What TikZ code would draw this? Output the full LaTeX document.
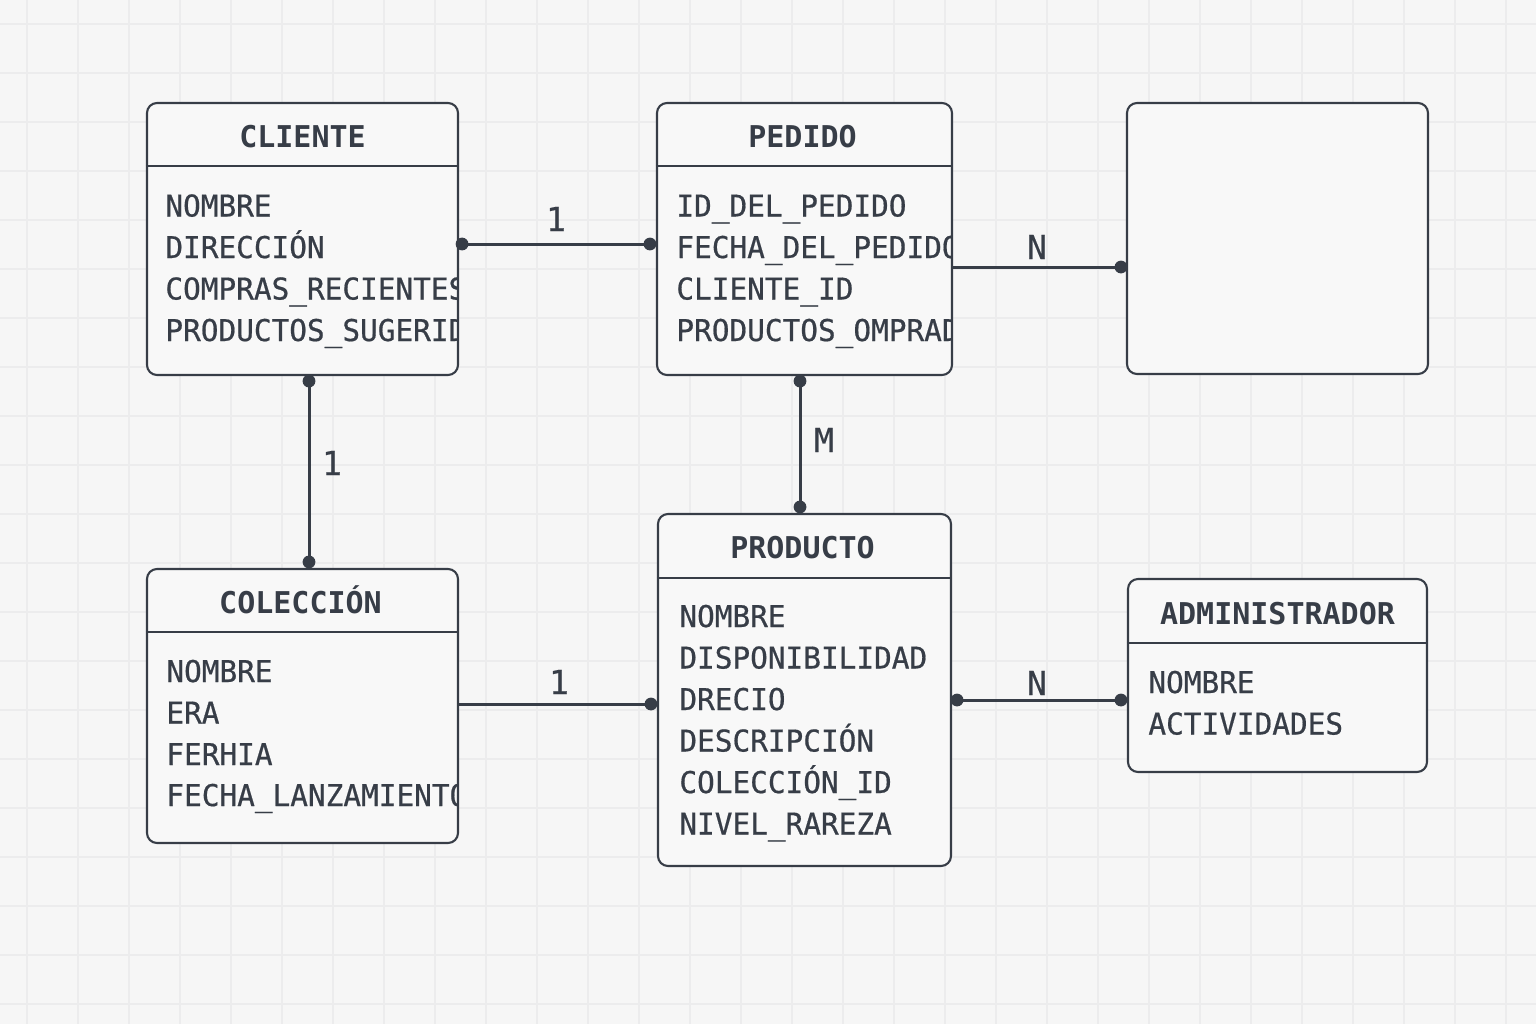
\documentclass[tikz,border=0pt]{standalone}
\usepackage{fontspec}
\usetikzlibrary{calc}
\newfontfamily\attrfont[FakeStretch=0.98,FakeBold=0.6]{DejaVu Sans Mono}
\newfontfamily\cardfont[FakeBold=0.4]{DejaVu Sans Mono}
\newfontfamily\titlefont{DejaVu Sans Mono}
\definecolor{ink}{RGB}{55,61,71}
\definecolor{bgc}{RGB}{246,246,246}
\definecolor{gridc}{RGB}{236,236,237}
\definecolor{boxfill}{RGB}{248,248,248}
\tikzset{
  entity/.style={draw=ink, fill=boxfill, line width=1.05pt, rounded corners=5pt, inner sep=0pt},
  hdr/.style={draw=ink, line width=0.9pt},
  ttl/.style={text=ink, inner sep=0pt, anchor=base, font=\titlefont\bfseries\fontsize{15pt}{18pt}\selectfont},
  attr/.style={text=ink, inner sep=0pt, anchor=base west, font=\attrfont\fontsize{15pt}{18pt}\selectfont},
  conn/.style={draw=ink, line width=1.5pt},
  dotc/.style={fill=ink},
  card/.style={text=ink, inner sep=0pt, anchor=base, font=\cardfont\fontsize{16.5pt}{19pt}\selectfont}
}
\begin{document}
\begin{tikzpicture}[x=0.5pt,y=-0.5pt]
\useasboundingbox (0,0) rectangle (1536,1024);
\fill[bgc] (0,0) rectangle (1536,1024);
\foreach \gx in {27,78,...,1536} \draw[gridc, line width=0.6pt] (\gx,0) -- (\gx,1024);
\foreach \gy in {24,73,...,1024} \draw[gridc, line width=0.6pt] (0,\gy) -- (1536,\gy);

% boxes
\node[entity, minimum width=155.5pt, minimum height=136pt] (cliente) at (302.5,239) {};
\node[entity, minimum width=147.5pt, minimum height=136pt] (pedido) at (804.5,239) {};
\node[entity, minimum width=150.5pt, minimum height=135.5pt] (extra) at (1277.5,238.5) {};
\node[entity, minimum width=155.5pt, minimum height=137pt] (coleccion) at (302.5,706) {};
\node[entity, minimum width=146.5pt, minimum height=176pt] (producto) at (804.5,690) {};
\node[entity, minimum width=149.5pt, minimum height=96.5pt] (admin) at (1277.5,675.5) {};

% header lines
\draw[hdr] (cliente.west |- 0,166) -- (cliente.east |- 0,166);
\draw[hdr] (pedido.west |- 0,166) -- (pedido.east |- 0,166);
\draw[hdr] (coleccion.west |- 0,632) -- (coleccion.east |- 0,632);
\draw[hdr] (producto.west |- 0,578) -- (producto.east |- 0,578);
\draw[hdr] (admin.west |- 0,643) -- (admin.east |- 0,643);

% titles
\node[ttl] (cliente-t) at (302.5,147) {CLIENTE};
\node[ttl] (pedido-t) at (802.5,147) {PEDIDO};
\node[ttl] (coleccion-t) at (300.5,613) {COLECCIÓN};
\node[ttl] (producto-t) at (802.5,558) {PRODUCTO};
\node[ttl] (admin-t) at (1277.5,624) {ADMINISTRADOR};

% attributes (clipped to their boxes)
\begin{scope}
\clip (147,166) rectangle (457,375);
\node[attr] (cl1) at (165,216.5) {NOMBRE};
\node[attr] (cl2) at (165,258) {DIRECCIÓN};
\node[attr] (cl3) at (165,299.5) {COMPRAS\_RECIENTES};
\node[attr] (cl4) at (165,341) {PRODUCTOS\_SUGERIDOS};
\end{scope}
\begin{scope}
\clip (657,166) rectangle (951,375);
\node[attr] (pe1) at (676,216.5) {ID\_DEL\_PEDIDO};
\node[attr] (pe2) at (676,258) {FECHA\_DEL\_PEDIDO};
\node[attr] (pe3) at (676,299.5) {CLIENTE\_ID};
\node[attr] (pe4) at (676,341) {PRODUCTOS\_OMPRADOS};
\end{scope}
\begin{scope}
\clip (147,632) rectangle (457,843);
\node[attr] (co1) at (166,682) {NOMBRE};
\node[attr] (co2) at (166,723.5) {ERA};
\node[attr] (co3) at (166,765) {FERHIA};
\node[attr] (co4) at (166,806) {FECHA\_LANZAMIENTO};
\end{scope}
\node[attr] (pr1) at (679,627) {NOMBRE};
\node[attr] (pr2) at (679,668.5) {DISPONIBILIDAD};
\node[attr] (pr3) at (679,710) {DRECIO};
\node[attr] (pr4) at (679,751.5) {DESCRIPCIÓN};
\node[attr] (pr5) at (679,793) {COLECCIÓN\_ID};
\node[attr] (pr6) at (679,834.5) {NIVEL\_RAREZA};
\node[attr] (ad1) at (1148,693) {NOMBRE};
\node[attr] (ad2) at (1148,734.5) {ACTIVIDADES};

% connector end points
\coordinate (e1a) at (cliente.east |- 0,244);
\coordinate (e1b) at (pedido.west |- 0,244);
\coordinate (e2a) at (pedido.east |- 0,267);
\coordinate (e2b) at (extra.west |- 0,267);
\coordinate (e3a) at (cliente.south -| 309,0);
\coordinate (e3b) at (coleccion.north -| 309,0);
\coordinate (e4a) at (pedido.south -| 800,0);
\coordinate (e4b) at (producto.north -| 800,0);
\coordinate (e5a) at (coleccion.east |- 0,704);
\coordinate (e5b) at (producto.west |- 0,704);
\coordinate (e6a) at (producto.east |- 0,700);
\coordinate (e6b) at (admin.west |- 0,700);

% connectors
\draw[conn] (e1a) -- (e1b);
\draw[conn] (e2a) -- (e2b);
\draw[conn] (e3a) -- (e3b);
\draw[conn] (e4a) -- (e4b);
\draw[conn] (e5a) -- (e5b);
\draw[conn] (e6a) -- (e6b);

% dots
\fill[dotc] ($(e1a)+(3,0)$) circle (3.2pt);
\fill[dotc] ($(e1b)+(-6,0)$) circle (3.2pt);
\fill[dotc] ($(e2b)+(-5,0)$) circle (3.2pt);
\fill[dotc] ($(e3a)+(0,5)$) circle (3.2pt);
\fill[dotc] ($(e3b)+(0,-6)$) circle (3.2pt);
\fill[dotc] ($(e4a)+(0,5)$) circle (3.2pt);
\fill[dotc] ($(e4b)+(0,-6)$) circle (3.2pt);
\fill[dotc] ($(e5b)+(-6,0)$) circle (3.2pt);
\fill[dotc] ($(e6a)+(5,0)$) circle (3.2pt);
\fill[dotc] ($(e6b)+(-6,0)$) circle (3.2pt);

% cardinality labels
\node[card] (k1) at (556,231) {1};
\node[card] (k2) at (1037,259) {N};
\node[card] (k3) at (332,475) {1};
\node[card] (k4) at (824,452) {M};
\node[card] (k5) at (559,694) {1};
\node[card] (k6) at (1037,695) {N};
\end{tikzpicture}
\end{document}
